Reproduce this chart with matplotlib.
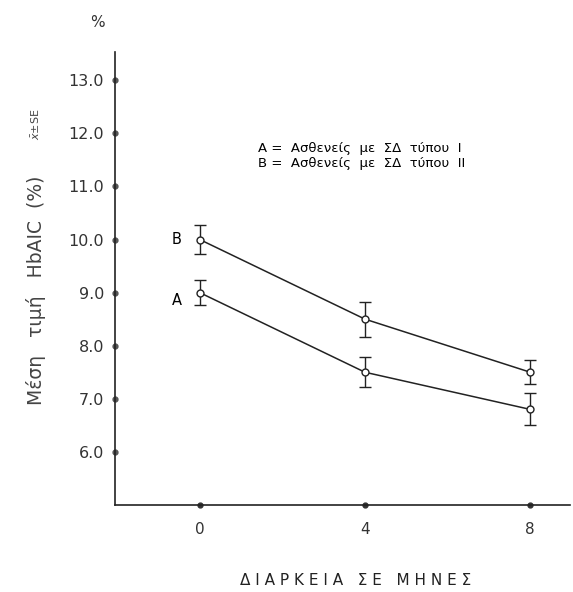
import matplotlib.pyplot as plt
import numpy as np

months = [0, 4, 8]
hba1c_a = [9.0, 7.5, 6.8]
err_a = [0.23, 0.28, 0.3]
hba1c_b = [10.0, 8.5, 7.5]
err_b = [0.28, 0.33, 0.23]
yticks = [6.0, 7.0, 8.0, 9.0, 10.0, 11.0, 12.0, 13.0]
ytick_labels = ['6.0', '7.0', '8.0', '9.0', '10.0', '11.0', '12.0', '13.0']

plt.rcParams['font.family'] = ['DejaVu Sans']

fig = plt.figure(figsize=(5.73, 5.92), dpi=100)
ax = fig.add_axes([0.2007, 0.147, 0.794, 0.765])

for y, e in [(hba1c_b, err_b), (hba1c_a, err_a)]:
    ax.errorbar(months, y, yerr=e, color='#222222', lw=1.1, marker='o', ms=5,
                mfc='white', mec='#222222', mew=1.0, capsize=4, capthick=1.0,
                elinewidth=1.0)

ax.set_xlim(-2.05, 8.96)
ax.set_ylim(5.0, 13.53)

for s in ['top', 'right']:
    ax.spines[s].set_visible(False)
for s in ['left', 'bottom']:
    ax.spines[s].set_color('#222222')
    ax.spines[s].set_linewidth(1.2)

ax.set_xticks(months)
ax.set_xticklabels([str(m) for m in months], fontsize=11, color='#333333')
ax.set_yticks(yticks)
ax.set_yticklabels(ytick_labels, fontsize=11.5, color='#333333')
ax.tick_params(axis='y', length=0, pad=8)
ax.tick_params(axis='x', length=0, pad=12)

# little dots on the axes at the ticks
ax.plot([-2.05] * len(yticks), yticks, 'o', ms=3.5, color='#555555', clip_on=False)
ax.plot(months, [5.0] * len(months), 'o', ms=3.5, color='#333333', clip_on=False)

ax.text(-0.55, 10.0, 'B', fontsize=10.5, ha='center', va='center')
ax.text(-0.55, 8.85, 'A', fontsize=10.5, ha='center', va='center')

fig.text(0.45, 0.749, 'A =  Ασθενείς  με  ΣΔ  τύπου  Ι', fontsize=9.5, va='center')
fig.text(0.45, 0.724, 'B =  Ασθενείς  με  ΣΔ  τύπου  ΙΙ', fontsize=9.5, va='center')

fig.text(0.17, 0.962, '%', fontsize=11, ha='center', va='center', color='#333333')
fig.text(0.062, 0.51, 'Μέση   τιμή   HbAIC  (%)', fontsize=13.5, rotation=90,
         ha='center', va='center', color='#444444')
fig.text(0.062, 0.79, r'$\bar{x}$±SE', fontsize=8, rotation=90,
         ha='center', va='center', color='#444444')

xlabel = '   '.join(' '.join(w) for w in ['ΔΙΑΡΚΕΙΑ', 'ΣΕ', 'ΜΗΝΕΣ'])
fig.text(0.62, 0.02, xlabel, fontsize=11, ha='center',
         va='center', color='#222222')

fig.savefig('out.png', dpi=100)
